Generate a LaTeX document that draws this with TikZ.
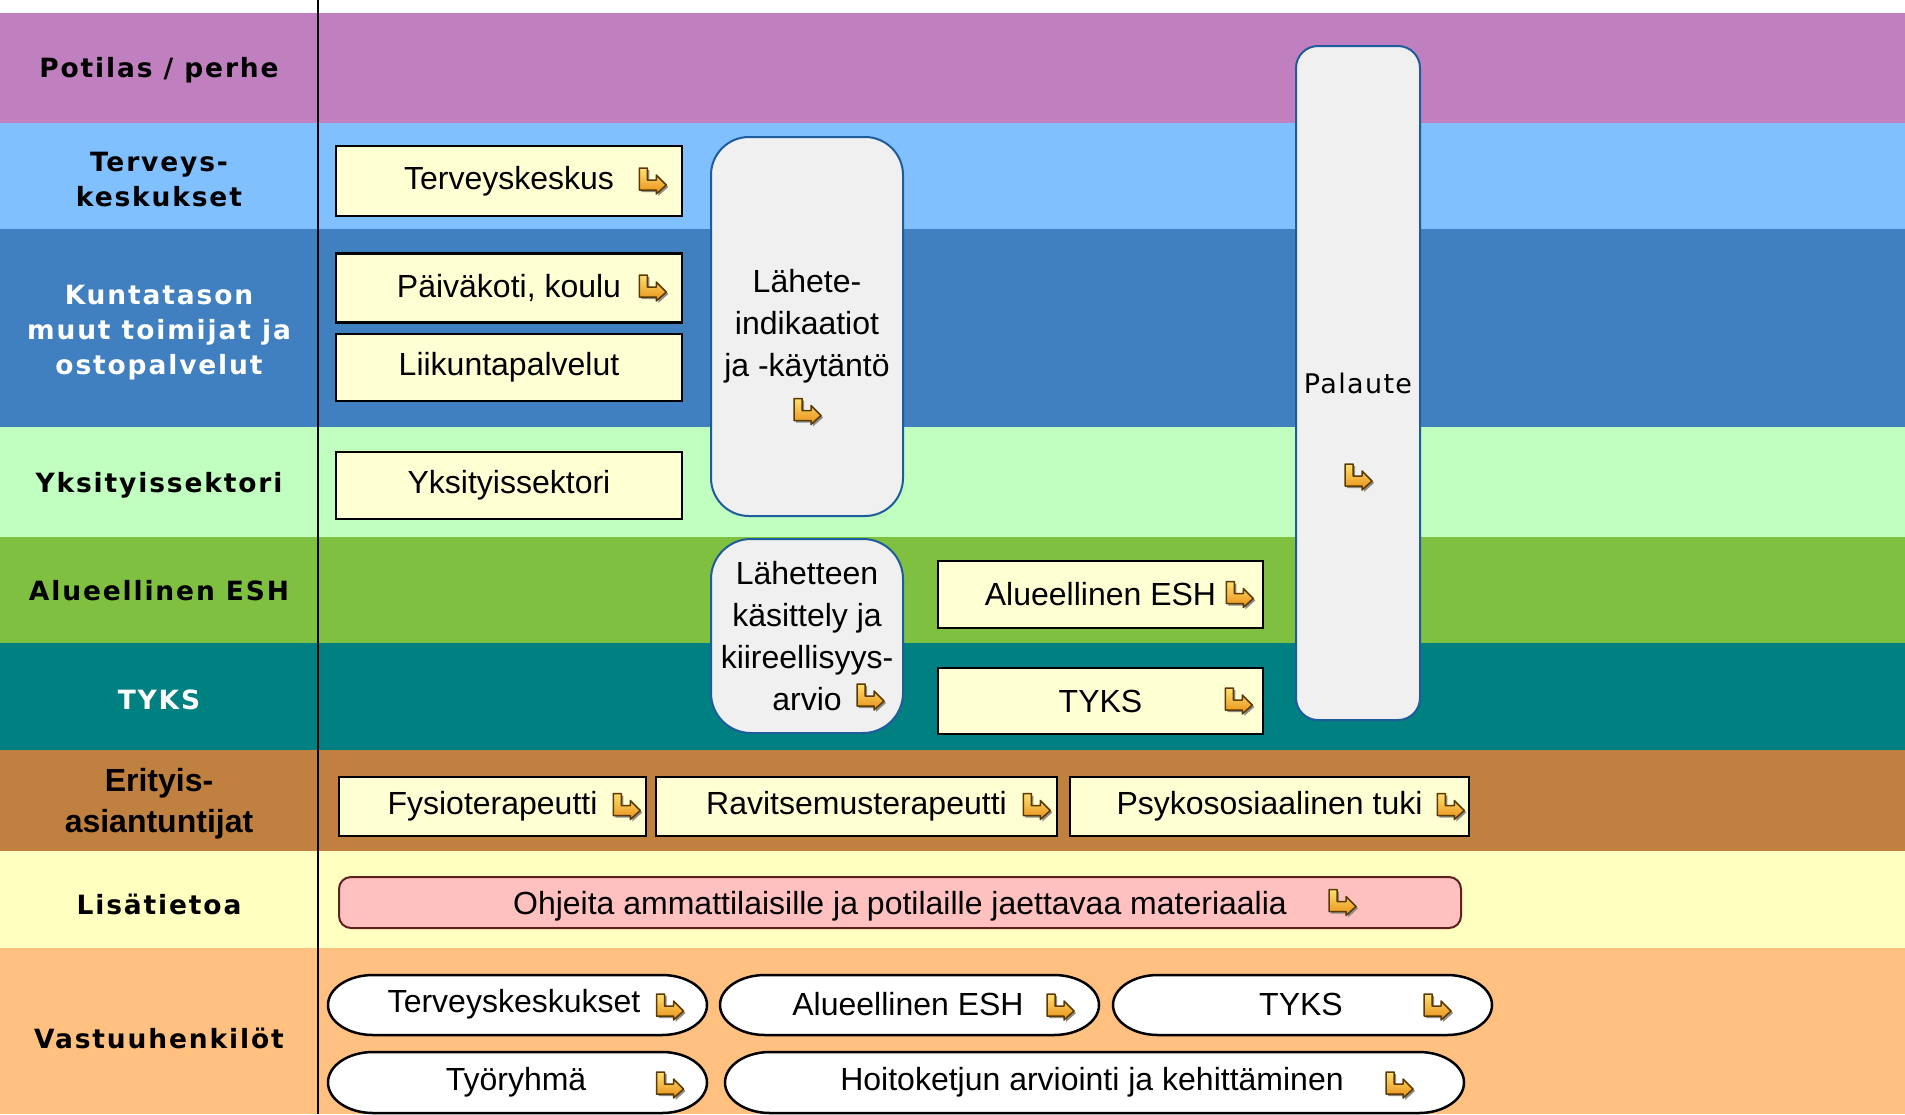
\documentclass[tikz,border=0pt]{standalone}
\usepackage{fontspec}
\setmainfont{Liberation Sans}
\newfontfamily\lblfont[LetterSpace=7]{DejaVu Sans}
\newfontfamily\palfont[LetterSpace=5]{DejaVu Sans}
\definecolor{cPot}{HTML}{C080C0}
\definecolor{cTer}{HTML}{80C0FF}
\definecolor{cKun}{HTML}{4080C0}
\definecolor{cYks}{HTML}{C0FFC0}
\definecolor{cAlu}{HTML}{80C040}
\definecolor{cTyk}{HTML}{008080}
\definecolor{cEri}{HTML}{C08040}
\definecolor{cLis}{HTML}{FFFFC0}
\definecolor{cVas}{HTML}{FFC080}
\definecolor{boxyellow}{HTML}{FFFFD4}
\definecolor{rboxfill}{HTML}{F0F0F0}
\definecolor{rboxedge}{HTML}{1F5C9E}
\definecolor{pinkfill}{HTML}{FFC0C0}
\definecolor{pinkedge}{HTML}{602020}
\definecolor{iconedge}{HTML}{5A3A00}
\definecolor{iconlight}{HTML}{FFE070}
\definecolor{icondark}{HTML}{E89018}
\newcommand\ovalshape[4]{%
  \draw[oval] (#1+45,#2) -- (#3-45,#2)
    arc[start angle=-90,end angle=90,x radius=45,y radius={(#4-#2)/2}]
    -- (#1+45,#4)
    arc[start angle=90,end angle=270,x radius=45,y radius={(#4-#2)/2}] -- cycle;}
\begin{document}
\begin{tikzpicture}[x=1pt,y=-1pt,
  lbl/.style={font=\lblfont\bfseries\fontsize{26.5}{35}\selectfont, align=center, inner sep=0pt},
  lbltwo/.style={font=\bfseries\fontsize{32}{41}\selectfont, align=center, inner sep=0pt},
  ybox/.style={draw=black, line width=2.5pt, fill=boxyellow, font=\fontsize{32}{40}\selectfont, inner sep=0pt},
  rbox/.style={draw=rboxedge, line width=2pt, fill=rboxfill, font=\fontsize{32}{42}\selectfont, align=center, inner sep=0pt},
  pbox/.style={draw=pinkedge, line width=2pt, fill=pinkfill, rounded corners=12pt, font=\fontsize{32}{40}\selectfont, inner sep=0pt, text depth=0pt},
  oval/.style={draw=black, line width=2.5pt, fill=white},
  otext/.style={font=\fontsize{32}{40}\selectfont, inner sep=0pt},
  icon/.pic={
    \fill[black!45] (-11,-11) -- (-3,-11) -- (-3,1) -- (6,1) -- (6,-4) -- (16,6) -- (6,15) -- (6,11) -- (-11,11) -- cycle;
    \draw[draw=iconedge, line width=1.5pt, top color=iconlight, bottom color=icondark, line join=round]
      (-13,-13) -- (-5,-13) -- (-5,-1) -- (4,-1) -- (4,-6) -- (14,4) -- (4,13) -- (4,9) -- (-13,9) -- cycle;
  }]
\useasboundingbox (0,0) rectangle (1905,1114);
% bands
\fill[white] (0,0) rectangle (1905,13);
\fill[cPot] (0,13) rectangle (1905,123);
\fill[cTer] (0,123) rectangle (1905,229);
\fill[cKun] (0,229) rectangle (1905,427);
\fill[cYks] (0,427) rectangle (1905,537);
\fill[cAlu] (0,537) rectangle (1905,643);
\fill[cTyk] (0,643) rectangle (1905,750);
\fill[cEri] (0,750) rectangle (1905,851);
\fill[cLis] (0,851) rectangle (1905,948);
\fill[cVas] (0,948) rectangle (1905,1114);
\draw[line width=2pt] (318,0) -- (318,1114);
% row labels
\node[lbl] (lPot) at (159,70) {Potilas / perhe};
\node[lbl] (lTer) at (159,180) {Terveys-\\keskukset};
\node[lbl,text=white] (lKun) at (159,333) {Kuntatason\\muut toimijat ja\\ostopalvelut};
\node[lbl] (lYks) at (159,485) {Yksityissektori};
\node[lbl] (lAlu) at (159,591) {Alueellinen ESH};
\node[lbl,text=white] (lTyk) at (159,700) {TYKS};
\node[lbltwo] (lEri) at (159,804) {Erityis-\\asiantuntijat};
\node[lbl] (lLis) at (159,904) {Lisätietoa};
\node[lbl] (lVas) at (159,1038) {Vastuuhenkilöt};
% yellow boxes
\node[ybox, minimum width=346pt, minimum height=70pt] (bTk) at (509,181) {Terveyskeskus};
\node[ybox, minimum width=346pt, minimum height=69pt] (bPk) at (509,288) {Päiväkoti, koulu};
\node[ybox, minimum width=346pt, minimum height=67pt] (bLp) at (509,367.5) {Liikuntapalvelut};
\node[ybox, minimum width=346pt, minimum height=67pt] (bYs) at (509,485.5) {Yksityissektori};
\node[ybox, minimum width=325pt, minimum height=67pt] (bAl) at (1100.5,594.5) {Alueellinen ESH};
\node[ybox, minimum width=325pt, minimum height=66pt] (bTy) at (1100.5,701) {TYKS};
\node[ybox, minimum width=307pt, minimum height=59pt] (bFy) at (492.5,806.5) {Fysioterapeutti};
\node[ybox, minimum width=401pt, minimum height=59pt] (bRa) at (856.5,806.5) {Ravitsemusterapeutti};
\node[ybox, minimum width=399pt, minimum height=59pt] (bPs) at (1269.5,806.5) {Psykososiaalinen tuki};
\node[pbox, minimum width=1122pt, minimum height=51pt] (bOh) at (900,902.5) {Ohjeita ammattilaisille ja potilaille jaettavaa materiaalia};
% rounded grey boxes
\node[rbox, minimum width=192pt, minimum height=379pt, rounded corners=38pt] (rLa) at (807,326.5) {Lähete-\\indikaatiot\\ja -käytäntö};
\node[rbox, minimum width=192pt, minimum height=194pt, rounded corners=40pt] (rLk) at (807,636) {Lähetteen\\käsittely ja\\kiireellisyys-\\arvio};
\node[rbox, font=\palfont\fontsize{27}{34}\selectfont, minimum width=124pt, minimum height=674pt, rounded corners=22pt] (rPa) at (1358,383) {Palaute};
% icons
\path ([xshift=-31pt]bTk.east) pic {icon};
\path ([xshift=-31pt]bPk.east) pic {icon};
\path ([xshift=-25pt]bAl.east) pic {icon};
\path ([xshift=-26pt]bTy.east) pic {icon};
\path ([xshift=-21pt]bFy.east) pic {icon};
\path ([xshift=-22pt]bRa.east) pic {icon};
\path ([xshift=-20pt]bPs.east) pic {icon};
\path ([xshift=-120pt]bOh.east) pic {icon};
\path ([yshift=-85pt]rLa.center) pic {icon};
\path ([xshift=63pt,yshift=-61pt]rLk.center) pic {icon};
\path ([yshift=-94pt]rPa.center) pic {icon};
% ovals
\ovalshape{328}{975}{707}{1035}
\node[otext] (oTk) at (514,1004) {Terveyskeskukset};
\ovalshape{720}{975}{1099}{1035}
\node[otext] (oAl) at (908,1004) {Alueellinen ESH};
\ovalshape{1113}{975}{1492}{1035}
\node[otext] (oTy) at (1301,1004) {TYKS};
\ovalshape{328}{1052}{707}{1113}
\node[otext] (oTr) at (516,1082) {Työryhmä};
\ovalshape{725}{1052}{1464}{1113}
\node[otext] (oHo) at (1092,1082) {Hoitoketjun arviointi ja kehittäminen};
\path (669.5,1007) pic {icon};
\path (1060,1007) pic {icon};
\path (1437,1007) pic {icon};
\path (669.5,1085) pic {icon};
\path (1399,1085) pic {icon};
\end{tikzpicture}
\end{document}
